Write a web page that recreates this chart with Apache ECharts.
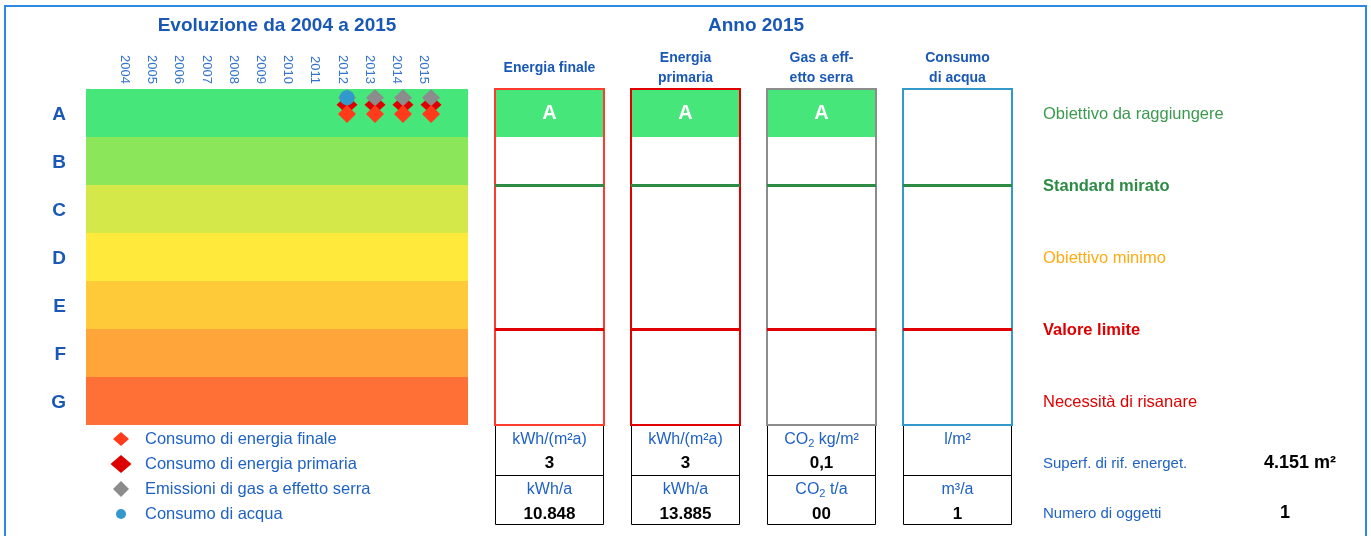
<!DOCTYPE html>
<html><head><meta charset="utf-8">
<script src="https://cdn.jsdelivr.net/npm/echarts@6/dist/echarts.min.js"></script>
<style>html,body{margin:0;padding:0;background:#fff}#c{width:1371px;height:536px}</style>
</head><body><div id="c"></div><script>
// ---------- data ----------
const classes = ['A','B','C','D','E','F','G'];
const years = [2004,2005,2006,2007,2008,2009,2010,2011,2012,2013,2014,2015];
const markerYears = [2012,2013,2014,2015];
// position on the class scale (0 = top of class A, 7 = bottom of class G)
const energyFinal   = [0.52,0.52,0.52,0.52];
const energyPrimary = [0.33,0.33,0.33,0.33];
const emissions     = [0.18,0.18,0.18,0.18];
const water         = [0.18,null,null,null];
const seriesNames = ['Consumo di energia finale','Consumo di energia primaria','Emissioni di gas a effetto serra','Consumo di acqua'];
const columnTitles = ['Energia finale','Energia\nprimaria','Gas a eff-\netto serra','Consumo\ndi acqua'];
const classes2015 = ['A','A','A',null];
const standardBoundary = 2;   // Standard mirato (between B and C)
const limitBoundary = 5;      // Valore limite (between E and F)
const goalLabels = ['Obiettivo da raggiungere','Standard mirato','Obiettivo minimo','Valore limite','Necessità di risanare'];
const goalPositions = [0.5, 2, 3.5, 5, 6.5];
const unitsSpecific = ['kWh/(m²a)','kWh/(m²a)','{u|CO}{s|2}{u| kg/m²}','l/m²'];
const valuesSpecific = ['3','3','0,1',''];
const unitsTotal = ['kWh/a','kWh/a','{u|CO}{s|2}{u| t/a}','m³/a'];
const valuesTotal = ['10.848','13.885','00','1'];
const areaLabel = 'Superf. di rif. energet.';
const areaValue = '4.151 m²';
const objectsLabel = 'Numero di oggetti';
const objectsValue = '1';

// ---------- style ----------
const FONT = "'Liberation Sans', Arial, sans-serif";
const classColors = ['#47e67a','#8ce65a','#d4e84a','#ffe93a','#ffca3a','#ffa53a','#ff7036'];
const TITLE_BLUE = '#1a58b6';
const TEXT_BLUE = '#1f62c4';
const colLefts = [495,631,767,903];
const colWidth = 109;
const TOP = 89, H = 336;
const colBorders = ['#ff3b30','#e00000','#8c8c8c','#3399cc'];
const markerColors = {final:'#ff3b1c', primary:'#dd0000', gas:'#8c8c8c', water:'#3399cc'};

const chart = echarts.init(document.getElementById('c'), null, {renderer:'canvas'});

const grids = [{left:86, top:TOP, width:382, height:H, show:false}];
colLefts.forEach((l,i)=>grids.push({left:l, top:TOP, width:colWidth, height:H, show:true,
  borderColor:colBorders[i], borderWidth:2, backgroundColor:'transparent', z:3}));

const xAxes = [
  {type:'value', gridIndex:0, min:2002.68, max:2016.32, show:false},
  {type:'value', gridIndex:0, position:'top', min:2002.58, max:2016.63,
   axisLine:{show:false}, axisTick:{show:false}, splitLine:{show:false},
   axisLabel:{customValues:years, rotate:90, margin:5, fontSize:13, color:'#3574cc', fontFamily:FONT,
     formatter:v=>String(v)}}
];
const yAxes = [
  {type:'value', gridIndex:0, min:0, max:7, inverse:true,
   axisLine:{show:false}, axisTick:{show:false}, splitLine:{show:false},
   axisLabel:{customValues:classes.map((c,i)=>i+0.5), margin:20, fontFamily:FONT,
     formatter:v=>'{l|'+classes[Math.floor(v)]+'}',
     rich:{l:{fontSize:19, fontWeight:'bold', color:TITLE_BLUE, fontFamily:FONT, padding:[4,0,0,0]}}}}
];
const colXAxis = [], colYAxis = [];
colLefts.forEach((l,i)=>{
  colXAxis.push(xAxes.length);
  xAxes.push({type:'value', gridIndex:i+1, min:0, max:1, show:false});
  const ya = {type:'value', gridIndex:i+1, min:0, max:7, inverse:true, show:false};
  if (i===3) {
    Object.assign(ya, {show:true, position:'right', axisLine:{show:false}, axisTick:{show:false}, splitLine:{show:false},
      axisLabel:{customValues:goalPositions, margin:31, fontFamily:FONT, fontSize:16.5, padding:[2,0,0,0],
        formatter:v=>{const k=goalPositions.indexOf(v); return '{g'+k+'|'+goalLabels[k]+'}';},
        rich:{
          g0:{color:'#3a9a4e', fontSize:16.5, fontFamily:FONT},
          g1:{color:'#2e8b45', fontSize:16.5, fontWeight:'bold', fontFamily:FONT},
          g2:{color:'#ffab12', fontSize:16.5, fontFamily:FONT},
          g3:{color:'#dd0000', fontSize:16.5, fontWeight:'bold', fontFamily:FONT},
          g4:{color:'#e00000', fontSize:16.5, fontFamily:FONT}
        }}});
  }
  colYAxis.push(yAxes.length);
  yAxes.push(ya);
});

const series = [];
// class bands
series.push({type:'scatter', name:'bands', xAxisIndex:0, yAxisIndex:0, data:[], silent:true,
  markArea:{silent:true, data:classes.map((c,i)=>[{yAxis:i, itemStyle:{color:classColors[i]}},{yAxis:i+1}])}});
const pts = arr => markerYears.map((y,i)=>arr[i]==null?null:[y,arr[i]]).filter(p=>p);
series.push({type:'scatter', name:seriesNames[1], xAxisIndex:0, yAxisIndex:0, symbol:'diamond', symbolSize:[21,19],
  itemStyle:{color:markerColors.primary, opacity:1}, data:pts(energyPrimary)});
series.push({type:'scatter', name:seriesNames[2], xAxisIndex:0, yAxisIndex:0, symbol:'diamond', symbolSize:[18,17],
  itemStyle:{color:markerColors.gas, opacity:1}, data:pts(emissions)});
series.push({type:'scatter', name:seriesNames[0], xAxisIndex:0, yAxisIndex:0, symbol:'diamond', symbolSize:[18,18],
  itemStyle:{color:markerColors.final, opacity:1}, data:pts(energyFinal)});
series.push({type:'scatter', name:seriesNames[3], xAxisIndex:0, yAxisIndex:0, symbol:'circle', symbolSize:15,
  itemStyle:{color:markerColors.water, opacity:1}, data:pts(water)});

// 2015 columns
colLefts.forEach((l,i)=>{
  const k = classes.indexOf(classes2015[i]);
  series.push({type:'scatter', name:'col'+i, xAxisIndex:colXAxis[i], yAxisIndex:colYAxis[i], data:[], silent:true,
    markArea:{silent:true, data: k<0?[]:[[{yAxis:k, itemStyle:{color:classColors[k]},
      label:{show:true, position:'inside', formatter:classes2015[i], color:'#fff', fontSize:20, fontWeight:'bold', fontFamily:FONT}},
      {yAxis:k+1}]]},
    markLine:{silent:true, symbol:'none', label:{show:false}, data:[
      {yAxis:standardBoundary, lineStyle:{color:'#2e8b45', width:3, type:'solid'}},
      {yAxis:limitBoundary, lineStyle:{color:'#e00000', width:3, type:'solid'}}]}
  });
});

// legends (one per item so icon sizes can differ)
const legendIcons = [
  {name:seriesNames[0], icon:'diamond', w:16, h:14},
  {name:seriesNames[1], icon:'diamond', w:21, h:18},
  {name:seriesNames[2], icon:'diamond', w:16, h:16},
  {name:seriesNames[3], icon:'circle',  w:10, h:10}
];
const legendRowsY = [439,464,489,514];
const legends = legendIcons.map((it,i)=>({
  data:[{name:it.name, icon:it.icon}], left:121-it.w/2, top:legendRowsY[i]-10, padding:0,
  itemWidth:it.w, itemHeight:it.h, selectedMode:false,
  textStyle:{color:TEXT_BLUE, fontSize:16.5, fontFamily:FONT, lineHeight:20, padding:[0,0,0,19-it.w/2]}
}));

// graphics: frame, titles, headers, tables
const g = [];
g.push({type:'rect', silent:true, shape:{x:5,y:6,width:1361,height:600}, style:{fill:'none', stroke:'#2b8ae0', lineWidth:2}});
const txt = (x,y,text,opt)=>g.push({type:'text', silent:true, x, y, style:Object.assign({text, fill:TEXT_BLUE,
  font:'16px '+FONT, align:'center', verticalAlign:'middle', textAlign:'center', textVerticalAlign:'middle'}, opt||{})});
txt(277,26,'Evoluzione da 2004 a 2015',{fill:TITLE_BLUE, font:'bold 19px '+FONT});
txt(756,26,'Anno 2015',{fill:TITLE_BLUE, font:'bold 19px '+FONT});
const richUnits = {u:{fontSize:16, fontFamily:FONT, fill:TEXT_BLUE, lineHeight:18, verticalAlign:'middle'},
                   s:{fontSize:11, fontFamily:FONT, fill:TEXT_BLUE, lineHeight:10, verticalAlign:'bottom'}};
colLefts.forEach((l,i)=>{
  const cx = l + colWidth/2;
  txt(cx, 68, columnTitles[i], {fill:TITLE_BLUE, font:'bold 14px '+FONT, lineHeight:20});
  g.push({type:'rect', silent:true, shape:{x:l+0.5, y:425.5, width:colWidth-1, height:99}, style:{fill:'none', stroke:'#000', lineWidth:1}});
  g.push({type:'line', silent:true, shape:{x1:l, y1:475.5, x2:l+colWidth, y2:475.5}, style:{stroke:'#000', lineWidth:1}});
  const u1 = unitsSpecific[i], u2 = unitsTotal[i];
  if (u1.indexOf('{')===0) txt(cx,440,u1,{rich:richUnits}); else txt(cx,440,u1);
  txt(cx,463,valuesSpecific[i],{fill:'#000', font:'bold 17px '+FONT});
  if (u2.indexOf('{')===0) txt(cx,490,u2,{rich:richUnits}); else txt(cx,490,u2);
  txt(cx,514,valuesTotal[i],{fill:'#000', font:'bold 17px '+FONT});
});
txt(1043,464,areaLabel,{font:'15px '+FONT, align:'left', textAlign:'left'});
txt(1336,463,areaValue,{fill:'#000', font:'bold 18px '+FONT, align:'right', textAlign:'right'});
txt(1043,514,objectsLabel,{font:'15px '+FONT, align:'left', textAlign:'left'});
txt(1285,513,objectsValue,{fill:'#000', font:'bold 18px '+FONT});

chart.setOption({
  animation:false,
  textStyle:{fontFamily:FONT},
  grid:grids, xAxis:xAxes, yAxis:yAxes, series, legend:legends, graphic:g
});
</script></body></html>
